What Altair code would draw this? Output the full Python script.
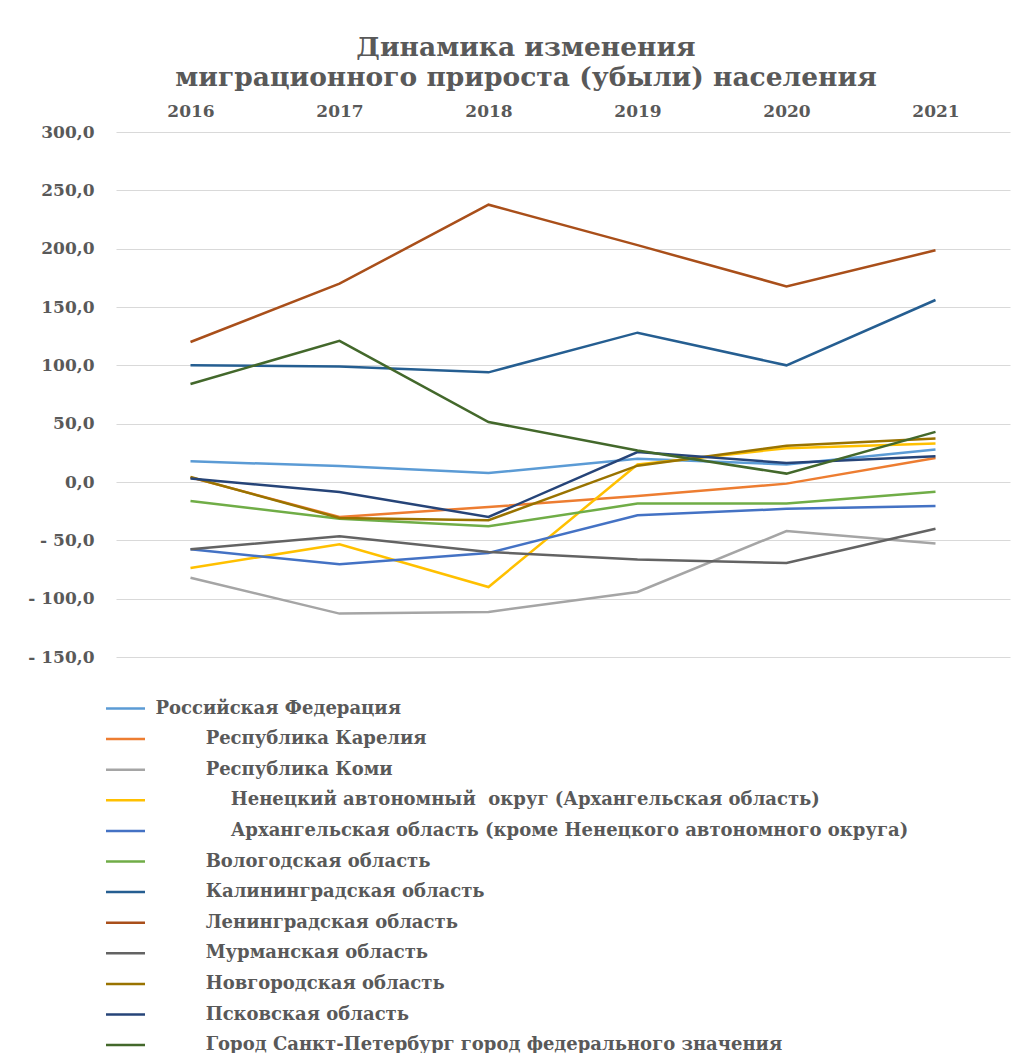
import altair as alt
import pandas as pd

FONT = "DejaVu Serif"
TXT = "#595959"
NB = "\u00a0"
ZW = "\u200b"

years = ["2016", "2017", "2018", "2019", "2020", "2021"]

names = [
    "Российская Федерация",
    ZW + NB * 8 + "Республика Карелия",
    ZW + NB * 8 + "Республика Коми",
    ZW + NB * 12 + "Ненецкий автономный" + NB + " округ (Архангельская область)",
    ZW + NB * 12 + "Архангельская область (кроме Ненецкого автономного округа)",
    ZW + NB * 8 + "Вологодская область",
    ZW + NB * 8 + "Калининградская область",
    ZW + NB * 8 + "Ленинградская область",
    ZW + NB * 8 + "Мурманская область",
    ZW + NB * 8 + "Новгородская область",
    ZW + NB * 8 + "Псковская область",
    ZW + NB * 8 + "Город Санкт-Петербург город федерального значения",
]

colors = ["#5B9BD5", "#ED7D31", "#A5A5A5", "#FFC000", "#4472C4", "#70AD47",
          "#255E91", "#A94F1A", "#636363", "#997300", "#264478", "#43682B"]

rf = [17.7, 13.7, 7.7, 20.0, 15.0, 27.8]
karelia = [4.0, -30.0, -21.4, -12.0, -1.4, 20.5]
komi = [-82.0, -112.8, -111.4, -94.3, -42.0, -52.8]
nenets = [-73.7, -53.4, -90.0, 15.0, 29.0, 33.0]
arkh = [-57.7, -70.5, -60.8, -28.5, -23.0, -20.5]
vologda = [-16.3, -31.4, -38.0, -18.5, -18.5, -8.3]
kalin = [100.0, 99.0, 94.0, 128.0, 100.0, 156.0]
lenin = [120.0, 170.0, 237.7, 203.0, 167.7, 198.6]
murm = [-57.7, -46.5, -60.0, -66.5, -69.4, -40.0]
novg = [4.3, -30.8, -32.8, 14.0, 31.0, 37.2]
pskov = [3.0, -8.6, -30.0, 25.7, 16.3, 22.0]
spb = [84.0, 121.0, 51.4, 27.0, 7.2, 43.0]

all_values = [rf, karelia, komi, nenets, arkh, vologda, kalin, lenin, murm, novg, pskov, spb]

rows = []
for i, (nm, vals) in enumerate(zip(names, all_values)):
    for y, v in zip(years, vals):
        rows.append({"series": nm, "year": y, "value": v, "idx": i})
df = pd.DataFrame(rows)

label_expr = ("datum.value < 0 ? '- ' + replace(format(-datum.value, '.1f'), '.', ',') "
              ": replace(format(datum.value, '.1f'), '.', ',')")

chart = alt.Chart(df).mark_line(strokeWidth=2.5).encode(
    x=alt.X("year:O", sort=years,
            scale=alt.Scale(type="point", padding=0.5),
            axis=alt.Axis(orient="top", title=None, labelAngle=0, domain=False, ticks=False,
                          grid=False, labelFont=FONT, labelFontSize=17, labelFontWeight="bold",
                          labelColor=TXT, labelPadding=12)),
    y=alt.Y("value:Q",
            scale=alt.Scale(domain=[-150, 300], nice=False, zero=False),
            axis=alt.Axis(values=list(range(-150, 301, 50)), title=None, domain=False, ticks=False,
                          grid=True, gridColor="#D9D9D9", gridWidth=1, labelExpr=label_expr,
                          labelFont=FONT, labelFontSize=17, labelFontWeight="bold",
                          labelColor=TXT, labelPadding=22)),
    color=alt.Color("series:N", sort=names,
                    scale=alt.Scale(domain=names, range=colors),
                    legend=alt.Legend(orient="none", legendX=-11.5, legendY=555.5, title=None,
                                      direction="vertical", symbolType="stroke", symbolSize=1521,
                                      symbolStrokeWidth=2.5, labelFont=FONT, labelFontSize=18,
                                      labelFontWeight="bold", labelColor=TXT, labelLimit=0,
                                      labelOffset=9, rowPadding=0.6, padding=0)),
    order=alt.Order("idx:Q"),
).properties(
    width=894,
    height=525,
    title=alt.TitleParams(
        text=["Динамика изменения", "миграционного прироста (убыли) населения"],
        font=FONT, fontSize=26.5, fontWeight="bold", color=TXT, anchor="middle",
        dx=-37, offset=11, lineHeight=30),
    autosize=alt.AutoSizeParams(type="none"),
    padding={"left": 108, "top": 124, "right": 5, "bottom": 396},
).configure(background="white").configure_view(stroke=None)

chart.save("out.html", embed_options={"renderer": "svg", "actions": False})
